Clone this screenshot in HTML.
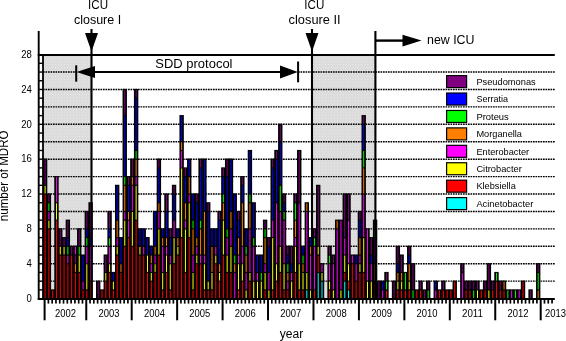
<!DOCTYPE html>
<html><head><meta charset="utf-8"><title>MDRO chart</title>
<style>html,body{margin:0;padding:0;background:#fff}body{width:566px;height:341px;overflow:hidden}</style></head>
<body>
<svg width="566" height="341" viewBox="0 0 566 341" style="display:block" font-family="Liberation Sans, Arial, Helvetica, sans-serif" fill="#000">
<defs><pattern id="gp" width="3" height="3" patternUnits="userSpaceOnUse"><rect width="3" height="3" fill="#dcdcdc"/><rect x="1" y="1" width="1" height="1" fill="#e6e6e6"/></pattern></defs>
<rect width="566" height="341" fill="#fff"/>
<rect x="43" y="55" width="48.400000000000006" height="244" fill="url(#gp)"/>
<rect x="312" y="55" width="63.39999999999998" height="244" fill="url(#gp)"/>
<line x1="43" x2="554.8" y1="281.17" y2="281.17" stroke="#000" stroke-width="1.4" stroke-dasharray="1.7 0.8"/>
<line x1="43" x2="554.8" y1="263.74" y2="263.74" stroke="#000" stroke-width="1.4" stroke-dasharray="1.7 0.8"/>
<line x1="43" x2="554.8" y1="246.32" y2="246.32" stroke="#000" stroke-width="1.4" stroke-dasharray="1.7 0.8"/>
<line x1="43" x2="554.8" y1="228.89" y2="228.89" stroke="#000" stroke-width="1.4" stroke-dasharray="1.7 0.8"/>
<line x1="43" x2="554.8" y1="211.46" y2="211.46" stroke="#000" stroke-width="1.4" stroke-dasharray="1.7 0.8"/>
<line x1="43" x2="554.8" y1="194.03" y2="194.03" stroke="#000" stroke-width="1.4" stroke-dasharray="1.7 0.8"/>
<line x1="43" x2="554.8" y1="176.60" y2="176.60" stroke="#000" stroke-width="1.4" stroke-dasharray="1.7 0.8"/>
<line x1="43" x2="554.8" y1="159.18" y2="159.18" stroke="#000" stroke-width="1.4" stroke-dasharray="1.7 0.8"/>
<line x1="43" x2="554.8" y1="141.75" y2="141.75" stroke="#000" stroke-width="1.4" stroke-dasharray="1.7 0.8"/>
<line x1="43" x2="554.8" y1="124.32" y2="124.32" stroke="#000" stroke-width="1.4" stroke-dasharray="1.7 0.8"/>
<line x1="43" x2="554.8" y1="106.89" y2="106.89" stroke="#000" stroke-width="1.4" stroke-dasharray="1.7 0.8"/>
<line x1="43" x2="554.8" y1="89.46" y2="89.46" stroke="#000" stroke-width="1.4" stroke-dasharray="1.7 0.8"/>
<line x1="43" x2="77" y1="72.04" y2="72.04" stroke="#000" stroke-width="1.4" stroke-dasharray="1.7 0.8"/>
<line x1="298" x2="554.8" y1="72.04" y2="72.04" stroke="#000" stroke-width="1.4" stroke-dasharray="1.7 0.8"/>
<rect x="42.90" y="158.63" width="4.393" height="139.97" fill="#000"/>
<rect x="44.60" y="194.58" width="0.993" height="103.47" fill="#ff0000"/>
<rect x="44.60" y="185.87" width="0.993" height="7.61" fill="#ffff00"/>
<rect x="44.60" y="159.73" width="0.993" height="25.04" fill="#800080"/>
<rect x="46.69" y="193.48" width="4.393" height="105.12" fill="#000"/>
<rect x="48.39" y="229.44" width="0.993" height="68.61" fill="#ff0000"/>
<rect x="48.39" y="220.72" width="0.993" height="7.61" fill="#ffff00"/>
<rect x="48.39" y="212.01" width="0.993" height="7.61" fill="#ff00ff"/>
<rect x="48.39" y="203.30" width="0.993" height="7.61" fill="#00ff00"/>
<rect x="48.39" y="194.58" width="0.993" height="7.61" fill="#800080"/>
<rect x="50.49" y="289.34" width="4.393" height="9.26" fill="#000"/>
<rect x="52.19" y="290.44" width="0.993" height="7.61" fill="#ff0000"/>
<rect x="54.28" y="176.05" width="4.393" height="122.55" fill="#000"/>
<rect x="55.98" y="220.72" width="0.993" height="77.33" fill="#ff0000"/>
<rect x="55.98" y="203.30" width="0.993" height="16.33" fill="#ffff00"/>
<rect x="55.98" y="177.15" width="0.993" height="25.04" fill="#ff00ff"/>
<rect x="58.07" y="228.34" width="4.393" height="70.26" fill="#000"/>
<rect x="59.77" y="255.58" width="0.993" height="42.47" fill="#ff0000"/>
<rect x="59.77" y="246.87" width="0.993" height="7.61" fill="#ffff00"/>
<rect x="59.77" y="229.44" width="0.993" height="16.33" fill="#800080"/>
<rect x="61.87" y="237.05" width="4.393" height="61.55" fill="#000"/>
<rect x="63.57" y="255.58" width="0.993" height="42.47" fill="#ff0000"/>
<rect x="63.57" y="246.87" width="0.993" height="7.61" fill="#ffff00"/>
<rect x="63.57" y="238.15" width="0.993" height="7.61" fill="#800080"/>
<rect x="65.66" y="219.62" width="4.393" height="78.98" fill="#000"/>
<rect x="67.36" y="264.29" width="0.993" height="33.76" fill="#ff0000"/>
<rect x="67.36" y="255.58" width="0.993" height="7.61" fill="#ff00ff"/>
<rect x="67.36" y="246.87" width="0.993" height="7.61" fill="#00ff00"/>
<rect x="67.36" y="238.15" width="0.993" height="7.61" fill="#0000ff"/>
<rect x="67.36" y="220.72" width="0.993" height="16.33" fill="#800080"/>
<rect x="69.45" y="245.77" width="4.393" height="52.83" fill="#000"/>
<rect x="71.15" y="255.58" width="0.993" height="42.47" fill="#ff0000"/>
<rect x="71.15" y="246.87" width="0.993" height="7.61" fill="#800080"/>
<rect x="73.24" y="245.77" width="4.393" height="52.83" fill="#000"/>
<rect x="74.94" y="273.01" width="0.993" height="25.04" fill="#ff0000"/>
<rect x="74.94" y="264.29" width="0.993" height="7.61" fill="#ff8000"/>
<rect x="74.94" y="255.58" width="0.993" height="7.61" fill="#800080"/>
<rect x="74.94" y="246.87" width="0.993" height="7.61" fill="#ff00ff"/>
<rect x="77.04" y="228.34" width="4.393" height="70.26" fill="#000"/>
<rect x="78.74" y="273.01" width="0.993" height="25.04" fill="#ff0000"/>
<rect x="78.74" y="255.58" width="0.993" height="16.33" fill="#ffff00"/>
<rect x="78.74" y="246.87" width="0.993" height="7.61" fill="#00ff00"/>
<rect x="78.74" y="229.44" width="0.993" height="16.33" fill="#800080"/>
<rect x="80.83" y="254.48" width="4.393" height="44.12" fill="#000"/>
<rect x="82.53" y="290.44" width="0.993" height="7.61" fill="#ff0000"/>
<rect x="82.53" y="281.72" width="0.993" height="7.61" fill="#ff00ff"/>
<rect x="82.53" y="255.58" width="0.993" height="25.04" fill="#0000ff"/>
<rect x="84.62" y="210.91" width="4.393" height="87.69" fill="#000"/>
<rect x="86.32" y="290.44" width="0.993" height="7.61" fill="#ff0000"/>
<rect x="86.32" y="264.29" width="0.993" height="25.04" fill="#ffff00"/>
<rect x="86.32" y="246.87" width="0.993" height="16.33" fill="#ff00ff"/>
<rect x="86.32" y="238.15" width="0.993" height="7.61" fill="#00ff00"/>
<rect x="86.32" y="229.44" width="0.993" height="7.61" fill="#0000ff"/>
<rect x="86.32" y="212.01" width="0.993" height="16.33" fill="#800080"/>
<rect x="88.42" y="202.20" width="4.393" height="96.40" fill="#000"/>
<rect x="90.12" y="281.72" width="0.993" height="16.33" fill="#ff0000"/>
<rect x="90.12" y="246.87" width="0.993" height="33.76" fill="#ff00ff"/>
<rect x="90.12" y="238.15" width="0.993" height="7.61" fill="#0000ff"/>
<rect x="90.12" y="203.30" width="0.993" height="33.76" fill="#800080"/>
<rect x="96.00" y="280.62" width="4.393" height="17.98" fill="#000"/>
<rect x="97.70" y="281.72" width="0.993" height="16.33" fill="#800080"/>
<rect x="99.80" y="289.34" width="4.393" height="9.26" fill="#000"/>
<rect x="101.50" y="290.44" width="0.993" height="7.61" fill="#ff0000"/>
<rect x="103.59" y="254.48" width="4.393" height="44.12" fill="#000"/>
<rect x="105.29" y="281.72" width="0.993" height="16.33" fill="#ff0000"/>
<rect x="105.29" y="273.01" width="0.993" height="7.61" fill="#ffff00"/>
<rect x="105.29" y="255.58" width="0.993" height="16.33" fill="#800080"/>
<rect x="107.38" y="210.91" width="4.393" height="87.69" fill="#000"/>
<rect x="109.08" y="273.01" width="0.993" height="25.04" fill="#ff0000"/>
<rect x="109.08" y="264.29" width="0.993" height="7.61" fill="#ffff00"/>
<rect x="109.08" y="246.87" width="0.993" height="16.33" fill="#ff00ff"/>
<rect x="109.08" y="238.15" width="0.993" height="7.61" fill="#00ff00"/>
<rect x="109.08" y="229.44" width="0.993" height="7.61" fill="#0000ff"/>
<rect x="109.08" y="212.01" width="0.993" height="16.33" fill="#800080"/>
<rect x="111.17" y="271.91" width="4.393" height="26.69" fill="#000"/>
<rect x="112.87" y="290.44" width="0.993" height="7.61" fill="#ff0000"/>
<rect x="112.87" y="281.72" width="0.993" height="7.61" fill="#ffff00"/>
<rect x="112.87" y="273.01" width="0.993" height="7.61" fill="#0000ff"/>
<rect x="114.97" y="184.77" width="4.393" height="113.83" fill="#000"/>
<rect x="116.67" y="255.58" width="0.993" height="42.47" fill="#ff0000"/>
<rect x="116.67" y="246.87" width="0.993" height="7.61" fill="#ffff00"/>
<rect x="116.67" y="238.15" width="0.993" height="7.61" fill="#ff00ff"/>
<rect x="116.67" y="220.72" width="0.993" height="16.33" fill="#ff8000"/>
<rect x="116.67" y="185.87" width="0.993" height="33.76" fill="#0000ff"/>
<rect x="118.76" y="237.05" width="4.393" height="61.55" fill="#000"/>
<rect x="120.46" y="273.01" width="0.993" height="25.04" fill="#ff0000"/>
<rect x="120.46" y="264.29" width="0.993" height="7.61" fill="#ff8000"/>
<rect x="120.46" y="238.15" width="0.993" height="25.04" fill="#0000ff"/>
<rect x="122.55" y="88.91" width="4.393" height="209.69" fill="#000"/>
<rect x="124.25" y="246.87" width="0.993" height="51.18" fill="#ff0000"/>
<rect x="124.25" y="220.72" width="0.993" height="25.04" fill="#ffff00"/>
<rect x="124.25" y="212.01" width="0.993" height="7.61" fill="#ff00ff"/>
<rect x="124.25" y="185.87" width="0.993" height="25.04" fill="#ff8000"/>
<rect x="124.25" y="177.15" width="0.993" height="7.61" fill="#00ff00"/>
<rect x="124.25" y="116.16" width="0.993" height="59.90" fill="#0000ff"/>
<rect x="124.25" y="90.01" width="0.993" height="25.04" fill="#800080"/>
<rect x="126.35" y="176.05" width="4.393" height="122.55" fill="#000"/>
<rect x="128.05" y="238.15" width="0.993" height="59.90" fill="#ff0000"/>
<rect x="128.05" y="220.72" width="0.993" height="16.33" fill="#ff00ff"/>
<rect x="128.05" y="212.01" width="0.993" height="7.61" fill="#ff8000"/>
<rect x="128.05" y="185.87" width="0.993" height="25.04" fill="#0000ff"/>
<rect x="128.05" y="177.15" width="0.993" height="7.61" fill="#800080"/>
<rect x="130.14" y="158.63" width="4.393" height="139.97" fill="#000"/>
<rect x="131.84" y="246.87" width="0.993" height="51.18" fill="#ff0000"/>
<rect x="131.84" y="212.01" width="0.993" height="33.76" fill="#ffff00"/>
<rect x="131.84" y="185.87" width="0.993" height="25.04" fill="#ff00ff"/>
<rect x="131.84" y="177.15" width="0.993" height="7.61" fill="#ff8000"/>
<rect x="131.84" y="159.73" width="0.993" height="16.33" fill="#800080"/>
<rect x="133.93" y="88.91" width="4.393" height="209.69" fill="#000"/>
<rect x="135.63" y="220.72" width="0.993" height="77.33" fill="#ff0000"/>
<rect x="135.63" y="185.87" width="0.993" height="33.76" fill="#ffff00"/>
<rect x="135.63" y="177.15" width="0.993" height="7.61" fill="#ff00ff"/>
<rect x="135.63" y="159.73" width="0.993" height="16.33" fill="#ff8000"/>
<rect x="135.63" y="151.01" width="0.993" height="7.61" fill="#00ff00"/>
<rect x="135.63" y="98.73" width="0.993" height="51.18" fill="#0000ff"/>
<rect x="135.63" y="90.01" width="0.993" height="7.61" fill="#800080"/>
<rect x="137.72" y="228.34" width="4.393" height="70.26" fill="#000"/>
<rect x="139.43" y="255.58" width="0.993" height="42.47" fill="#ff0000"/>
<rect x="139.43" y="246.87" width="0.993" height="7.61" fill="#ffff00"/>
<rect x="139.43" y="229.44" width="0.993" height="16.33" fill="#0000ff"/>
<rect x="141.52" y="228.34" width="4.393" height="70.26" fill="#000"/>
<rect x="143.22" y="255.58" width="0.993" height="42.47" fill="#ff0000"/>
<rect x="143.22" y="246.87" width="0.993" height="7.61" fill="#ff00ff"/>
<rect x="143.22" y="229.44" width="0.993" height="16.33" fill="#0000ff"/>
<rect x="145.31" y="237.05" width="4.393" height="61.55" fill="#000"/>
<rect x="147.01" y="273.01" width="0.993" height="25.04" fill="#ff0000"/>
<rect x="147.01" y="255.58" width="0.993" height="16.33" fill="#ffff00"/>
<rect x="147.01" y="238.15" width="0.993" height="16.33" fill="#0000ff"/>
<rect x="149.10" y="245.77" width="4.393" height="52.83" fill="#000"/>
<rect x="150.80" y="281.72" width="0.993" height="16.33" fill="#ff0000"/>
<rect x="150.80" y="273.01" width="0.993" height="7.61" fill="#ffff00"/>
<rect x="150.80" y="264.29" width="0.993" height="7.61" fill="#ff00ff"/>
<rect x="150.80" y="255.58" width="0.993" height="7.61" fill="#ff8000"/>
<rect x="150.80" y="246.87" width="0.993" height="7.61" fill="#0000ff"/>
<rect x="152.90" y="210.91" width="4.393" height="87.69" fill="#000"/>
<rect x="154.60" y="273.01" width="0.993" height="25.04" fill="#ff0000"/>
<rect x="154.60" y="264.29" width="0.993" height="7.61" fill="#ffff00"/>
<rect x="154.60" y="255.58" width="0.993" height="7.61" fill="#ff00ff"/>
<rect x="154.60" y="246.87" width="0.993" height="7.61" fill="#ff8000"/>
<rect x="154.60" y="212.01" width="0.993" height="33.76" fill="#0000ff"/>
<rect x="156.69" y="158.63" width="4.393" height="139.97" fill="#000"/>
<rect x="158.39" y="255.58" width="0.993" height="42.47" fill="#ff0000"/>
<rect x="158.39" y="229.44" width="0.993" height="25.04" fill="#ffff00"/>
<rect x="158.39" y="212.01" width="0.993" height="16.33" fill="#ff00ff"/>
<rect x="158.39" y="203.30" width="0.993" height="7.61" fill="#ff8000"/>
<rect x="158.39" y="168.44" width="0.993" height="33.76" fill="#0000ff"/>
<rect x="158.39" y="159.73" width="0.993" height="7.61" fill="#800080"/>
<rect x="160.48" y="228.34" width="4.393" height="70.26" fill="#000"/>
<rect x="162.18" y="290.44" width="0.993" height="7.61" fill="#ff0000"/>
<rect x="162.18" y="273.01" width="0.993" height="16.33" fill="#ffff00"/>
<rect x="162.18" y="246.87" width="0.993" height="25.04" fill="#ff00ff"/>
<rect x="162.18" y="238.15" width="0.993" height="7.61" fill="#ff8000"/>
<rect x="162.18" y="229.44" width="0.993" height="7.61" fill="#0000ff"/>
<rect x="164.28" y="193.48" width="4.393" height="105.12" fill="#000"/>
<rect x="165.98" y="273.01" width="0.993" height="25.04" fill="#ff0000"/>
<rect x="165.98" y="255.58" width="0.993" height="16.33" fill="#ffff00"/>
<rect x="165.98" y="246.87" width="0.993" height="7.61" fill="#ff00ff"/>
<rect x="165.98" y="238.15" width="0.993" height="7.61" fill="#ff8000"/>
<rect x="165.98" y="212.01" width="0.993" height="25.04" fill="#0000ff"/>
<rect x="165.98" y="194.58" width="0.993" height="16.33" fill="#800080"/>
<rect x="168.07" y="228.34" width="4.393" height="70.26" fill="#000"/>
<rect x="169.77" y="290.44" width="0.993" height="7.61" fill="#ff0000"/>
<rect x="169.77" y="264.29" width="0.993" height="25.04" fill="#ffff00"/>
<rect x="169.77" y="255.58" width="0.993" height="7.61" fill="#ff00ff"/>
<rect x="169.77" y="238.15" width="0.993" height="16.33" fill="#0000ff"/>
<rect x="169.77" y="229.44" width="0.993" height="7.61" fill="#800080"/>
<rect x="171.86" y="184.77" width="4.393" height="113.83" fill="#000"/>
<rect x="173.56" y="264.29" width="0.993" height="33.76" fill="#ff0000"/>
<rect x="173.56" y="238.15" width="0.993" height="25.04" fill="#ffff00"/>
<rect x="173.56" y="220.72" width="0.993" height="16.33" fill="#ff00ff"/>
<rect x="173.56" y="194.58" width="0.993" height="25.04" fill="#0000ff"/>
<rect x="173.56" y="185.87" width="0.993" height="7.61" fill="#800080"/>
<rect x="175.65" y="228.34" width="4.393" height="70.26" fill="#000"/>
<rect x="177.35" y="255.58" width="0.993" height="42.47" fill="#ff0000"/>
<rect x="177.35" y="246.87" width="0.993" height="7.61" fill="#ffff00"/>
<rect x="177.35" y="238.15" width="0.993" height="7.61" fill="#ff8000"/>
<rect x="177.35" y="229.44" width="0.993" height="7.61" fill="#0000ff"/>
<rect x="179.45" y="115.06" width="4.393" height="183.54" fill="#000"/>
<rect x="181.15" y="238.15" width="0.993" height="59.90" fill="#ff0000"/>
<rect x="181.15" y="168.44" width="0.993" height="68.61" fill="#ffff00"/>
<rect x="181.15" y="151.01" width="0.993" height="16.33" fill="#ff00ff"/>
<rect x="181.15" y="142.30" width="0.993" height="7.61" fill="#ff8000"/>
<rect x="181.15" y="116.16" width="0.993" height="25.04" fill="#0000ff"/>
<rect x="183.24" y="167.34" width="4.393" height="131.26" fill="#000"/>
<rect x="184.94" y="273.01" width="0.993" height="25.04" fill="#ff0000"/>
<rect x="184.94" y="229.44" width="0.993" height="42.47" fill="#ffff00"/>
<rect x="184.94" y="220.72" width="0.993" height="7.61" fill="#ff00ff"/>
<rect x="184.94" y="203.30" width="0.993" height="16.33" fill="#ff8000"/>
<rect x="184.94" y="177.15" width="0.993" height="25.04" fill="#0000ff"/>
<rect x="184.94" y="168.44" width="0.993" height="7.61" fill="#800080"/>
<rect x="187.03" y="158.63" width="4.393" height="139.97" fill="#000"/>
<rect x="188.73" y="238.15" width="0.993" height="59.90" fill="#ff0000"/>
<rect x="188.73" y="203.30" width="0.993" height="33.76" fill="#ffff00"/>
<rect x="188.73" y="194.58" width="0.993" height="7.61" fill="#ff00ff"/>
<rect x="188.73" y="177.15" width="0.993" height="16.33" fill="#ff8000"/>
<rect x="188.73" y="159.73" width="0.993" height="16.33" fill="#0000ff"/>
<rect x="190.83" y="193.48" width="4.393" height="105.12" fill="#000"/>
<rect x="192.53" y="290.44" width="0.993" height="7.61" fill="#ff0000"/>
<rect x="192.53" y="273.01" width="0.993" height="16.33" fill="#ffff00"/>
<rect x="192.53" y="255.58" width="0.993" height="16.33" fill="#ff00ff"/>
<rect x="192.53" y="229.44" width="0.993" height="25.04" fill="#ff8000"/>
<rect x="192.53" y="220.72" width="0.993" height="7.61" fill="#00ff00"/>
<rect x="192.53" y="194.58" width="0.993" height="25.04" fill="#0000ff"/>
<rect x="194.62" y="193.48" width="4.393" height="105.12" fill="#000"/>
<rect x="196.32" y="264.29" width="0.993" height="33.76" fill="#ff0000"/>
<rect x="196.32" y="255.58" width="0.993" height="7.61" fill="#ffff00"/>
<rect x="196.32" y="246.87" width="0.993" height="7.61" fill="#ff00ff"/>
<rect x="196.32" y="238.15" width="0.993" height="7.61" fill="#ff8000"/>
<rect x="196.32" y="203.30" width="0.993" height="33.76" fill="#0000ff"/>
<rect x="196.32" y="194.58" width="0.993" height="7.61" fill="#800080"/>
<rect x="198.41" y="158.63" width="4.393" height="139.97" fill="#000"/>
<rect x="200.11" y="264.29" width="0.993" height="33.76" fill="#ff0000"/>
<rect x="200.11" y="255.58" width="0.993" height="7.61" fill="#ff00ff"/>
<rect x="200.11" y="229.44" width="0.993" height="25.04" fill="#ff8000"/>
<rect x="200.11" y="220.72" width="0.993" height="7.61" fill="#00ff00"/>
<rect x="200.11" y="168.44" width="0.993" height="51.18" fill="#0000ff"/>
<rect x="200.11" y="159.73" width="0.993" height="7.61" fill="#800080"/>
<rect x="202.21" y="158.63" width="4.393" height="139.97" fill="#000"/>
<rect x="203.91" y="290.44" width="0.993" height="7.61" fill="#ff0000"/>
<rect x="203.91" y="264.29" width="0.993" height="25.04" fill="#ffff00"/>
<rect x="203.91" y="255.58" width="0.993" height="7.61" fill="#ff00ff"/>
<rect x="203.91" y="212.01" width="0.993" height="42.47" fill="#ff8000"/>
<rect x="203.91" y="159.73" width="0.993" height="51.18" fill="#0000ff"/>
<rect x="206.00" y="202.20" width="4.393" height="96.40" fill="#000"/>
<rect x="207.70" y="290.44" width="0.993" height="7.61" fill="#ff0000"/>
<rect x="207.70" y="281.72" width="0.993" height="7.61" fill="#ffff00"/>
<rect x="207.70" y="212.01" width="0.993" height="68.61" fill="#0000ff"/>
<rect x="207.70" y="203.30" width="0.993" height="7.61" fill="#800080"/>
<rect x="209.79" y="228.34" width="4.393" height="70.26" fill="#000"/>
<rect x="211.49" y="290.44" width="0.993" height="7.61" fill="#ff0000"/>
<rect x="211.49" y="273.01" width="0.993" height="16.33" fill="#ffff00"/>
<rect x="211.49" y="246.87" width="0.993" height="25.04" fill="#ff8000"/>
<rect x="211.49" y="229.44" width="0.993" height="16.33" fill="#0000ff"/>
<rect x="213.58" y="228.34" width="4.393" height="70.26" fill="#000"/>
<rect x="215.28" y="264.29" width="0.993" height="33.76" fill="#ff0000"/>
<rect x="215.28" y="255.58" width="0.993" height="7.61" fill="#ffff00"/>
<rect x="215.28" y="246.87" width="0.993" height="7.61" fill="#ff00ff"/>
<rect x="215.28" y="229.44" width="0.993" height="16.33" fill="#0000ff"/>
<rect x="217.38" y="210.91" width="4.393" height="87.69" fill="#000"/>
<rect x="219.08" y="281.72" width="0.993" height="16.33" fill="#ff0000"/>
<rect x="219.08" y="273.01" width="0.993" height="7.61" fill="#ffff00"/>
<rect x="219.08" y="264.29" width="0.993" height="7.61" fill="#ff8000"/>
<rect x="219.08" y="220.72" width="0.993" height="42.47" fill="#0000ff"/>
<rect x="219.08" y="212.01" width="0.993" height="7.61" fill="#800080"/>
<rect x="221.17" y="167.34" width="4.393" height="131.26" fill="#000"/>
<rect x="222.87" y="255.58" width="0.993" height="42.47" fill="#ff0000"/>
<rect x="222.87" y="220.72" width="0.993" height="33.76" fill="#ffff00"/>
<rect x="222.87" y="203.30" width="0.993" height="16.33" fill="#ff8000"/>
<rect x="222.87" y="194.58" width="0.993" height="7.61" fill="#00ff00"/>
<rect x="222.87" y="177.15" width="0.993" height="16.33" fill="#0000ff"/>
<rect x="222.87" y="168.44" width="0.993" height="7.61" fill="#800080"/>
<rect x="224.96" y="158.63" width="4.393" height="139.97" fill="#000"/>
<rect x="226.66" y="273.01" width="0.993" height="25.04" fill="#ff0000"/>
<rect x="226.66" y="255.58" width="0.993" height="16.33" fill="#ffff00"/>
<rect x="226.66" y="238.15" width="0.993" height="16.33" fill="#ff00ff"/>
<rect x="226.66" y="229.44" width="0.993" height="7.61" fill="#00ff00"/>
<rect x="226.66" y="177.15" width="0.993" height="51.18" fill="#0000ff"/>
<rect x="226.66" y="159.73" width="0.993" height="16.33" fill="#800080"/>
<rect x="228.76" y="158.63" width="4.393" height="139.97" fill="#000"/>
<rect x="230.46" y="273.01" width="0.993" height="25.04" fill="#ff0000"/>
<rect x="230.46" y="246.87" width="0.993" height="25.04" fill="#ffff00"/>
<rect x="230.46" y="229.44" width="0.993" height="16.33" fill="#ff00ff"/>
<rect x="230.46" y="212.01" width="0.993" height="16.33" fill="#ff8000"/>
<rect x="230.46" y="159.73" width="0.993" height="51.18" fill="#0000ff"/>
<rect x="232.55" y="193.48" width="4.393" height="105.12" fill="#000"/>
<rect x="234.25" y="273.01" width="0.993" height="25.04" fill="#ff00ff"/>
<rect x="234.25" y="264.29" width="0.993" height="7.61" fill="#ff8000"/>
<rect x="234.25" y="255.58" width="0.993" height="7.61" fill="#00ff00"/>
<rect x="234.25" y="194.58" width="0.993" height="59.90" fill="#0000ff"/>
<rect x="236.34" y="210.91" width="4.393" height="87.69" fill="#000"/>
<rect x="238.04" y="290.44" width="0.993" height="7.61" fill="#ff0000"/>
<rect x="238.04" y="264.29" width="0.993" height="25.04" fill="#ffff00"/>
<rect x="238.04" y="255.58" width="0.993" height="7.61" fill="#ff00ff"/>
<rect x="238.04" y="238.15" width="0.993" height="16.33" fill="#ff8000"/>
<rect x="238.04" y="220.72" width="0.993" height="16.33" fill="#0000ff"/>
<rect x="238.04" y="212.01" width="0.993" height="7.61" fill="#800080"/>
<rect x="240.14" y="176.05" width="4.393" height="122.55" fill="#000"/>
<rect x="241.84" y="281.72" width="0.993" height="16.33" fill="#ff0000"/>
<rect x="241.84" y="264.29" width="0.993" height="16.33" fill="#ffff00"/>
<rect x="241.84" y="246.87" width="0.993" height="16.33" fill="#ff00ff"/>
<rect x="241.84" y="203.30" width="0.993" height="42.47" fill="#ff8000"/>
<rect x="241.84" y="185.87" width="0.993" height="16.33" fill="#0000ff"/>
<rect x="241.84" y="177.15" width="0.993" height="7.61" fill="#800080"/>
<rect x="243.93" y="228.34" width="4.393" height="70.26" fill="#000"/>
<rect x="245.63" y="290.44" width="0.993" height="7.61" fill="#ffff00"/>
<rect x="245.63" y="273.01" width="0.993" height="16.33" fill="#ff00ff"/>
<rect x="245.63" y="255.58" width="0.993" height="16.33" fill="#ff8000"/>
<rect x="245.63" y="246.87" width="0.993" height="7.61" fill="#00ff00"/>
<rect x="245.63" y="229.44" width="0.993" height="16.33" fill="#0000ff"/>
<rect x="247.72" y="149.91" width="4.393" height="148.69" fill="#000"/>
<rect x="249.42" y="281.72" width="0.993" height="16.33" fill="#ff0000"/>
<rect x="249.42" y="273.01" width="0.993" height="7.61" fill="#ffff00"/>
<rect x="249.42" y="229.44" width="0.993" height="42.47" fill="#ff00ff"/>
<rect x="249.42" y="203.30" width="0.993" height="25.04" fill="#ff8000"/>
<rect x="249.42" y="194.58" width="0.993" height="7.61" fill="#00ff00"/>
<rect x="249.42" y="151.01" width="0.993" height="42.47" fill="#0000ff"/>
<rect x="251.51" y="202.20" width="4.393" height="96.40" fill="#000"/>
<rect x="253.22" y="281.72" width="0.993" height="16.33" fill="#ffff00"/>
<rect x="253.22" y="246.87" width="0.993" height="33.76" fill="#ff00ff"/>
<rect x="253.22" y="238.15" width="0.993" height="7.61" fill="#00ff00"/>
<rect x="253.22" y="203.30" width="0.993" height="33.76" fill="#0000ff"/>
<rect x="255.31" y="254.48" width="4.393" height="44.12" fill="#000"/>
<rect x="257.01" y="281.72" width="0.993" height="16.33" fill="#ffff00"/>
<rect x="257.01" y="273.01" width="0.993" height="7.61" fill="#ff00ff"/>
<rect x="257.01" y="255.58" width="0.993" height="16.33" fill="#0000ff"/>
<rect x="259.10" y="254.48" width="4.393" height="44.12" fill="#000"/>
<rect x="260.80" y="281.72" width="0.993" height="16.33" fill="#ffff00"/>
<rect x="260.80" y="273.01" width="0.993" height="7.61" fill="#00ff00"/>
<rect x="260.80" y="255.58" width="0.993" height="16.33" fill="#0000ff"/>
<rect x="262.89" y="219.62" width="4.393" height="78.98" fill="#000"/>
<rect x="264.59" y="290.44" width="0.993" height="7.61" fill="#ff0000"/>
<rect x="264.59" y="273.01" width="0.993" height="16.33" fill="#ffff00"/>
<rect x="264.59" y="264.29" width="0.993" height="7.61" fill="#ff00ff"/>
<rect x="264.59" y="238.15" width="0.993" height="25.04" fill="#ff8000"/>
<rect x="264.59" y="229.44" width="0.993" height="7.61" fill="#00ff00"/>
<rect x="264.59" y="220.72" width="0.993" height="7.61" fill="#800080"/>
<rect x="266.69" y="237.05" width="4.393" height="61.55" fill="#000"/>
<rect x="268.39" y="290.44" width="0.993" height="7.61" fill="#ffff00"/>
<rect x="268.39" y="273.01" width="0.993" height="16.33" fill="#ff00ff"/>
<rect x="268.39" y="246.87" width="0.993" height="25.04" fill="#0000ff"/>
<rect x="268.39" y="238.15" width="0.993" height="7.61" fill="#800080"/>
<rect x="270.48" y="158.63" width="4.393" height="139.97" fill="#000"/>
<rect x="272.18" y="290.44" width="0.993" height="7.61" fill="#ff0000"/>
<rect x="272.18" y="238.15" width="0.993" height="51.18" fill="#ffff00"/>
<rect x="272.18" y="220.72" width="0.993" height="16.33" fill="#ff00ff"/>
<rect x="272.18" y="168.44" width="0.993" height="51.18" fill="#0000ff"/>
<rect x="272.18" y="159.73" width="0.993" height="7.61" fill="#800080"/>
<rect x="274.27" y="149.91" width="4.393" height="148.69" fill="#000"/>
<rect x="275.97" y="281.72" width="0.993" height="16.33" fill="#ff0000"/>
<rect x="275.97" y="264.29" width="0.993" height="16.33" fill="#ffff00"/>
<rect x="275.97" y="203.30" width="0.993" height="59.90" fill="#ff00ff"/>
<rect x="275.97" y="159.73" width="0.993" height="42.47" fill="#0000ff"/>
<rect x="275.97" y="151.01" width="0.993" height="7.61" fill="#800080"/>
<rect x="278.07" y="123.77" width="4.393" height="174.83" fill="#000"/>
<rect x="279.77" y="273.01" width="0.993" height="25.04" fill="#ff0000"/>
<rect x="279.77" y="246.87" width="0.993" height="25.04" fill="#ffff00"/>
<rect x="279.77" y="212.01" width="0.993" height="33.76" fill="#ff00ff"/>
<rect x="279.77" y="185.87" width="0.993" height="25.04" fill="#00ff00"/>
<rect x="279.77" y="142.30" width="0.993" height="42.47" fill="#0000ff"/>
<rect x="279.77" y="124.87" width="0.993" height="16.33" fill="#800080"/>
<rect x="281.86" y="193.48" width="4.393" height="105.12" fill="#000"/>
<rect x="283.56" y="290.44" width="0.993" height="7.61" fill="#ff0000"/>
<rect x="283.56" y="264.29" width="0.993" height="25.04" fill="#ffff00"/>
<rect x="283.56" y="220.72" width="0.993" height="42.47" fill="#ff00ff"/>
<rect x="283.56" y="212.01" width="0.993" height="7.61" fill="#00ff00"/>
<rect x="283.56" y="203.30" width="0.993" height="7.61" fill="#0000ff"/>
<rect x="283.56" y="194.58" width="0.993" height="7.61" fill="#800080"/>
<rect x="285.65" y="245.77" width="4.393" height="52.83" fill="#000"/>
<rect x="287.35" y="290.44" width="0.993" height="7.61" fill="#ff0000"/>
<rect x="287.35" y="281.72" width="0.993" height="7.61" fill="#ff00ff"/>
<rect x="287.35" y="273.01" width="0.993" height="7.61" fill="#ff8000"/>
<rect x="287.35" y="264.29" width="0.993" height="7.61" fill="#00ff00"/>
<rect x="287.35" y="255.58" width="0.993" height="7.61" fill="#0000ff"/>
<rect x="287.35" y="246.87" width="0.993" height="7.61" fill="#800080"/>
<rect x="289.44" y="245.77" width="4.393" height="52.83" fill="#000"/>
<rect x="291.14" y="281.72" width="0.993" height="16.33" fill="#ffff00"/>
<rect x="291.14" y="273.01" width="0.993" height="7.61" fill="#ff00ff"/>
<rect x="291.14" y="264.29" width="0.993" height="7.61" fill="#0000ff"/>
<rect x="291.14" y="246.87" width="0.993" height="16.33" fill="#800080"/>
<rect x="293.24" y="193.48" width="4.393" height="105.12" fill="#000"/>
<rect x="294.94" y="273.01" width="0.993" height="25.04" fill="#ff0000"/>
<rect x="294.94" y="246.87" width="0.993" height="25.04" fill="#ffff00"/>
<rect x="294.94" y="238.15" width="0.993" height="7.61" fill="#ff00ff"/>
<rect x="294.94" y="220.72" width="0.993" height="16.33" fill="#ff8000"/>
<rect x="294.94" y="203.30" width="0.993" height="16.33" fill="#00ff00"/>
<rect x="294.94" y="194.58" width="0.993" height="7.61" fill="#800080"/>
<rect x="297.03" y="149.91" width="4.393" height="148.69" fill="#000"/>
<rect x="298.73" y="290.44" width="0.993" height="7.61" fill="#ff0000"/>
<rect x="298.73" y="264.29" width="0.993" height="25.04" fill="#ffff00"/>
<rect x="298.73" y="203.30" width="0.993" height="59.90" fill="#ff00ff"/>
<rect x="298.73" y="151.01" width="0.993" height="51.18" fill="#800080"/>
<rect x="300.82" y="245.77" width="4.393" height="52.83" fill="#000"/>
<rect x="302.52" y="290.44" width="0.993" height="7.61" fill="#ff0000"/>
<rect x="302.52" y="273.01" width="0.993" height="16.33" fill="#ffff00"/>
<rect x="302.52" y="264.29" width="0.993" height="7.61" fill="#ff8000"/>
<rect x="302.52" y="255.58" width="0.993" height="7.61" fill="#00ff00"/>
<rect x="302.52" y="246.87" width="0.993" height="7.61" fill="#0000ff"/>
<rect x="304.62" y="202.20" width="4.393" height="96.40" fill="#000"/>
<rect x="306.32" y="290.44" width="0.993" height="7.61" fill="#00ffff"/>
<rect x="306.32" y="273.01" width="0.993" height="16.33" fill="#ffff00"/>
<rect x="306.32" y="212.01" width="0.993" height="59.90" fill="#ff00ff"/>
<rect x="306.32" y="203.30" width="0.993" height="7.61" fill="#ff8000"/>
<rect x="308.41" y="237.05" width="4.393" height="61.55" fill="#000"/>
<rect x="310.11" y="290.44" width="0.993" height="7.61" fill="#ffff00"/>
<rect x="310.11" y="255.58" width="0.993" height="33.76" fill="#ff00ff"/>
<rect x="310.11" y="246.87" width="0.993" height="7.61" fill="#ff8000"/>
<rect x="310.11" y="238.15" width="0.993" height="7.61" fill="#0000ff"/>
<rect x="312.20" y="228.34" width="4.393" height="70.26" fill="#000"/>
<rect x="313.90" y="290.44" width="0.993" height="7.61" fill="#ff0000"/>
<rect x="313.90" y="246.87" width="0.993" height="42.47" fill="#ff00ff"/>
<rect x="313.90" y="238.15" width="0.993" height="7.61" fill="#00ff00"/>
<rect x="313.90" y="229.44" width="0.993" height="7.61" fill="#800080"/>
<rect x="316.00" y="184.77" width="4.393" height="113.83" fill="#000"/>
<rect x="317.70" y="273.01" width="0.993" height="25.04" fill="#00ffff"/>
<rect x="317.70" y="255.58" width="0.993" height="16.33" fill="#ff0000"/>
<rect x="317.70" y="246.87" width="0.993" height="7.61" fill="#ffff00"/>
<rect x="317.70" y="185.87" width="0.993" height="59.90" fill="#800080"/>
<rect x="319.79" y="263.19" width="4.393" height="35.41" fill="#000"/>
<rect x="321.49" y="281.72" width="0.993" height="16.33" fill="#00ffff"/>
<rect x="321.49" y="273.01" width="0.993" height="7.61" fill="#ffff00"/>
<rect x="321.49" y="264.29" width="0.993" height="7.61" fill="#ff00ff"/>
<rect x="327.38" y="245.77" width="4.393" height="52.83" fill="#000"/>
<rect x="329.07" y="290.44" width="0.993" height="7.61" fill="#ff0000"/>
<rect x="329.07" y="281.72" width="0.993" height="7.61" fill="#ffff00"/>
<rect x="329.07" y="264.29" width="0.993" height="16.33" fill="#ff00ff"/>
<rect x="329.07" y="255.58" width="0.993" height="7.61" fill="#00ff00"/>
<rect x="329.07" y="246.87" width="0.993" height="7.61" fill="#800080"/>
<rect x="331.17" y="254.48" width="4.393" height="44.12" fill="#000"/>
<rect x="332.87" y="290.44" width="0.993" height="7.61" fill="#ffff00"/>
<rect x="332.87" y="264.29" width="0.993" height="25.04" fill="#ff00ff"/>
<rect x="332.87" y="255.58" width="0.993" height="7.61" fill="#800080"/>
<rect x="334.96" y="219.62" width="4.393" height="78.98" fill="#000"/>
<rect x="336.66" y="229.44" width="0.993" height="68.61" fill="#ff00ff"/>
<rect x="336.66" y="220.72" width="0.993" height="7.61" fill="#ff8000"/>
<rect x="338.75" y="219.62" width="4.393" height="78.98" fill="#000"/>
<rect x="340.45" y="290.44" width="0.993" height="7.61" fill="#ffff00"/>
<rect x="340.45" y="220.72" width="0.993" height="68.61" fill="#ff00ff"/>
<rect x="342.55" y="193.48" width="4.393" height="105.12" fill="#000"/>
<rect x="344.25" y="281.72" width="0.993" height="16.33" fill="#00ffff"/>
<rect x="344.25" y="273.01" width="0.993" height="7.61" fill="#ff0000"/>
<rect x="344.25" y="255.58" width="0.993" height="16.33" fill="#ffff00"/>
<rect x="344.25" y="238.15" width="0.993" height="16.33" fill="#ff00ff"/>
<rect x="344.25" y="194.58" width="0.993" height="42.47" fill="#800080"/>
<rect x="346.34" y="193.48" width="4.393" height="105.12" fill="#000"/>
<rect x="348.04" y="290.44" width="0.993" height="7.61" fill="#00ffff"/>
<rect x="348.04" y="281.72" width="0.993" height="7.61" fill="#ff0000"/>
<rect x="348.04" y="264.29" width="0.993" height="16.33" fill="#ffff00"/>
<rect x="348.04" y="220.72" width="0.993" height="42.47" fill="#ff00ff"/>
<rect x="348.04" y="194.58" width="0.993" height="25.04" fill="#800080"/>
<rect x="350.13" y="254.48" width="4.393" height="44.12" fill="#000"/>
<rect x="351.83" y="264.29" width="0.993" height="33.76" fill="#ff0000"/>
<rect x="351.83" y="255.58" width="0.993" height="7.61" fill="#ff00ff"/>
<rect x="353.93" y="254.48" width="4.393" height="44.12" fill="#000"/>
<rect x="355.63" y="281.72" width="0.993" height="16.33" fill="#ff0000"/>
<rect x="355.63" y="264.29" width="0.993" height="16.33" fill="#ff00ff"/>
<rect x="355.63" y="255.58" width="0.993" height="7.61" fill="#0000ff"/>
<rect x="357.72" y="210.91" width="4.393" height="87.69" fill="#000"/>
<rect x="359.42" y="273.01" width="0.993" height="25.04" fill="#ff0000"/>
<rect x="359.42" y="264.29" width="0.993" height="7.61" fill="#ffff00"/>
<rect x="359.42" y="255.58" width="0.993" height="7.61" fill="#ff00ff"/>
<rect x="359.42" y="238.15" width="0.993" height="16.33" fill="#ff8000"/>
<rect x="359.42" y="220.72" width="0.993" height="16.33" fill="#0000ff"/>
<rect x="359.42" y="212.01" width="0.993" height="7.61" fill="#800080"/>
<rect x="361.51" y="115.06" width="4.393" height="183.54" fill="#000"/>
<rect x="363.21" y="273.01" width="0.993" height="25.04" fill="#ff0000"/>
<rect x="363.21" y="238.15" width="0.993" height="33.76" fill="#ffff00"/>
<rect x="363.21" y="194.58" width="0.993" height="42.47" fill="#ff00ff"/>
<rect x="363.21" y="168.44" width="0.993" height="25.04" fill="#ff8000"/>
<rect x="363.21" y="151.01" width="0.993" height="16.33" fill="#00ff00"/>
<rect x="363.21" y="124.87" width="0.993" height="25.04" fill="#0000ff"/>
<rect x="363.21" y="116.16" width="0.993" height="7.61" fill="#800080"/>
<rect x="365.31" y="228.34" width="4.393" height="70.26" fill="#000"/>
<rect x="367.00" y="281.72" width="0.993" height="16.33" fill="#ffff00"/>
<rect x="367.00" y="229.44" width="0.993" height="51.18" fill="#ff00ff"/>
<rect x="369.10" y="237.05" width="4.393" height="61.55" fill="#000"/>
<rect x="370.80" y="281.72" width="0.993" height="16.33" fill="#ffff00"/>
<rect x="370.80" y="264.29" width="0.993" height="16.33" fill="#ff00ff"/>
<rect x="370.80" y="255.58" width="0.993" height="7.61" fill="#0000ff"/>
<rect x="370.80" y="238.15" width="0.993" height="16.33" fill="#800080"/>
<rect x="372.89" y="219.62" width="4.393" height="78.98" fill="#000"/>
<rect x="374.59" y="281.72" width="0.993" height="16.33" fill="#ff0000"/>
<rect x="374.59" y="264.29" width="0.993" height="16.33" fill="#ffff00"/>
<rect x="374.59" y="238.15" width="0.993" height="25.04" fill="#ff00ff"/>
<rect x="374.59" y="229.44" width="0.993" height="7.61" fill="#00ff00"/>
<rect x="374.59" y="220.72" width="0.993" height="7.61" fill="#800080"/>
<rect x="376.68" y="280.62" width="4.393" height="17.98" fill="#000"/>
<rect x="378.38" y="281.72" width="0.993" height="16.33" fill="#800080"/>
<rect x="380.48" y="280.62" width="4.393" height="17.98" fill="#000"/>
<rect x="382.18" y="290.44" width="0.993" height="7.61" fill="#ff00ff"/>
<rect x="382.18" y="281.72" width="0.993" height="7.61" fill="#0000ff"/>
<rect x="384.27" y="271.91" width="4.393" height="26.69" fill="#000"/>
<rect x="385.97" y="290.44" width="0.993" height="7.61" fill="#ff0000"/>
<rect x="385.97" y="281.72" width="0.993" height="7.61" fill="#00ff00"/>
<rect x="385.97" y="273.01" width="0.993" height="7.61" fill="#800080"/>
<rect x="391.86" y="280.62" width="4.393" height="17.98" fill="#000"/>
<rect x="393.56" y="281.72" width="0.993" height="16.33" fill="#800080"/>
<rect x="395.65" y="245.77" width="4.393" height="52.83" fill="#000"/>
<rect x="397.35" y="290.44" width="0.993" height="7.61" fill="#ff0000"/>
<rect x="397.35" y="281.72" width="0.993" height="7.61" fill="#ffff00"/>
<rect x="397.35" y="273.01" width="0.993" height="7.61" fill="#ff8000"/>
<rect x="397.35" y="264.29" width="0.993" height="7.61" fill="#0000ff"/>
<rect x="397.35" y="246.87" width="0.993" height="16.33" fill="#800080"/>
<rect x="399.44" y="254.48" width="4.393" height="44.12" fill="#000"/>
<rect x="401.14" y="290.44" width="0.993" height="7.61" fill="#ff0000"/>
<rect x="401.14" y="281.72" width="0.993" height="7.61" fill="#ffff00"/>
<rect x="401.14" y="273.01" width="0.993" height="7.61" fill="#ff8000"/>
<rect x="401.14" y="255.58" width="0.993" height="16.33" fill="#800080"/>
<rect x="403.24" y="271.91" width="4.393" height="26.69" fill="#000"/>
<rect x="404.94" y="290.44" width="0.993" height="7.61" fill="#ff0000"/>
<rect x="404.94" y="273.01" width="0.993" height="16.33" fill="#00ff00"/>
<rect x="407.03" y="245.77" width="4.393" height="52.83" fill="#000"/>
<rect x="408.73" y="290.44" width="0.993" height="7.61" fill="#ff0000"/>
<rect x="408.73" y="281.72" width="0.993" height="7.61" fill="#ffff00"/>
<rect x="408.73" y="264.29" width="0.993" height="16.33" fill="#ff8000"/>
<rect x="408.73" y="255.58" width="0.993" height="7.61" fill="#0000ff"/>
<rect x="408.73" y="246.87" width="0.993" height="7.61" fill="#800080"/>
<rect x="410.82" y="263.19" width="4.393" height="35.41" fill="#000"/>
<rect x="412.52" y="290.44" width="0.993" height="7.61" fill="#00ff00"/>
<rect x="412.52" y="264.29" width="0.993" height="25.04" fill="#800080"/>
<rect x="414.61" y="289.34" width="4.393" height="9.26" fill="#000"/>
<rect x="416.31" y="290.44" width="0.993" height="7.61" fill="#ff0000"/>
<rect x="418.41" y="280.62" width="4.393" height="17.98" fill="#000"/>
<rect x="420.11" y="290.44" width="0.993" height="7.61" fill="#ff0000"/>
<rect x="420.11" y="281.72" width="0.993" height="7.61" fill="#800080"/>
<rect x="422.20" y="289.34" width="4.393" height="9.26" fill="#000"/>
<rect x="423.90" y="290.44" width="0.993" height="7.61" fill="#800080"/>
<rect x="425.99" y="280.62" width="4.393" height="17.98" fill="#000"/>
<rect x="427.69" y="290.44" width="0.993" height="7.61" fill="#00ff00"/>
<rect x="427.69" y="281.72" width="0.993" height="7.61" fill="#800080"/>
<rect x="433.58" y="280.62" width="4.393" height="17.98" fill="#000"/>
<rect x="435.28" y="290.44" width="0.993" height="7.61" fill="#ff00ff"/>
<rect x="435.28" y="281.72" width="0.993" height="7.61" fill="#0000ff"/>
<rect x="437.37" y="289.34" width="4.393" height="9.26" fill="#000"/>
<rect x="439.07" y="290.44" width="0.993" height="7.61" fill="#ff0000"/>
<rect x="441.17" y="280.62" width="4.393" height="17.98" fill="#000"/>
<rect x="442.87" y="290.44" width="0.993" height="7.61" fill="#ff0000"/>
<rect x="442.87" y="281.72" width="0.993" height="7.61" fill="#800080"/>
<rect x="444.96" y="289.34" width="4.393" height="9.26" fill="#000"/>
<rect x="446.66" y="290.44" width="0.993" height="7.61" fill="#ff0000"/>
<rect x="448.75" y="289.34" width="4.393" height="9.26" fill="#000"/>
<rect x="450.45" y="290.44" width="0.993" height="7.61" fill="#ff0000"/>
<rect x="452.54" y="280.62" width="4.393" height="17.98" fill="#000"/>
<rect x="454.24" y="281.72" width="0.993" height="16.33" fill="#ff0000"/>
<rect x="460.13" y="263.19" width="4.393" height="35.41" fill="#000"/>
<rect x="461.83" y="273.01" width="0.993" height="25.04" fill="#ff00ff"/>
<rect x="461.83" y="264.29" width="0.993" height="7.61" fill="#800080"/>
<rect x="463.92" y="280.62" width="4.393" height="17.98" fill="#000"/>
<rect x="465.62" y="290.44" width="0.993" height="7.61" fill="#ff0000"/>
<rect x="465.62" y="281.72" width="0.993" height="7.61" fill="#800080"/>
<rect x="467.72" y="280.62" width="4.393" height="17.98" fill="#000"/>
<rect x="469.42" y="290.44" width="0.993" height="7.61" fill="#ff0000"/>
<rect x="469.42" y="281.72" width="0.993" height="7.61" fill="#800080"/>
<rect x="471.51" y="280.62" width="4.393" height="17.98" fill="#000"/>
<rect x="473.21" y="290.44" width="0.993" height="7.61" fill="#00ff00"/>
<rect x="473.21" y="281.72" width="0.993" height="7.61" fill="#800080"/>
<rect x="475.30" y="280.62" width="4.393" height="17.98" fill="#000"/>
<rect x="477.00" y="290.44" width="0.993" height="7.61" fill="#ffff00"/>
<rect x="477.00" y="281.72" width="0.993" height="7.61" fill="#800080"/>
<rect x="479.09" y="289.34" width="4.393" height="9.26" fill="#000"/>
<rect x="480.79" y="290.44" width="0.993" height="7.61" fill="#ff0000"/>
<rect x="482.89" y="280.62" width="4.393" height="17.98" fill="#000"/>
<rect x="484.59" y="290.44" width="0.993" height="7.61" fill="#ff0000"/>
<rect x="484.59" y="281.72" width="0.993" height="7.61" fill="#800080"/>
<rect x="486.68" y="263.19" width="4.393" height="35.41" fill="#000"/>
<rect x="488.38" y="290.44" width="0.993" height="7.61" fill="#ffff00"/>
<rect x="488.38" y="264.29" width="0.993" height="25.04" fill="#800080"/>
<rect x="490.47" y="280.62" width="4.393" height="17.98" fill="#000"/>
<rect x="492.17" y="290.44" width="0.993" height="7.61" fill="#ff0000"/>
<rect x="492.17" y="281.72" width="0.993" height="7.61" fill="#800080"/>
<rect x="494.27" y="271.91" width="4.393" height="26.69" fill="#000"/>
<rect x="495.97" y="281.72" width="0.993" height="16.33" fill="#ff0000"/>
<rect x="495.97" y="273.01" width="0.993" height="7.61" fill="#00ff00"/>
<rect x="498.06" y="280.62" width="4.393" height="17.98" fill="#000"/>
<rect x="499.76" y="290.44" width="0.993" height="7.61" fill="#ff0000"/>
<rect x="499.76" y="281.72" width="0.993" height="7.61" fill="#800080"/>
<rect x="501.85" y="280.62" width="4.393" height="17.98" fill="#000"/>
<rect x="503.55" y="290.44" width="0.993" height="7.61" fill="#ff0000"/>
<rect x="503.55" y="281.72" width="0.993" height="7.61" fill="#ff8000"/>
<rect x="505.65" y="289.34" width="4.393" height="9.26" fill="#000"/>
<rect x="507.35" y="290.44" width="0.993" height="7.61" fill="#00ff00"/>
<rect x="509.44" y="289.34" width="4.393" height="9.26" fill="#000"/>
<rect x="511.14" y="290.44" width="0.993" height="7.61" fill="#ff00ff"/>
<rect x="513.23" y="289.34" width="4.393" height="9.26" fill="#000"/>
<rect x="514.93" y="290.44" width="0.993" height="7.61" fill="#00ff00"/>
<rect x="517.03" y="289.34" width="4.393" height="9.26" fill="#000"/>
<rect x="518.73" y="290.44" width="0.993" height="7.61" fill="#ff00ff"/>
<rect x="520.82" y="280.62" width="4.393" height="17.98" fill="#000"/>
<rect x="522.52" y="281.72" width="0.993" height="16.33" fill="#ff0000"/>
<rect x="528.40" y="289.34" width="4.393" height="9.26" fill="#000"/>
<rect x="530.10" y="290.44" width="0.993" height="7.61" fill="#800080"/>
<rect x="535.99" y="263.19" width="4.393" height="35.41" fill="#000"/>
<rect x="537.69" y="290.44" width="0.993" height="7.61" fill="#ff8000"/>
<rect x="537.69" y="273.01" width="0.993" height="16.33" fill="#00ff00"/>
<rect x="537.69" y="264.29" width="0.993" height="7.61" fill="#800080"/>
<g stroke="#000" stroke-width="1.8" fill="none">
<line x1="38.7" x2="38.7" y1="31" y2="300" stroke-width="1.9"/>
<line x1="37.8" x2="554.8" y1="55" y2="55"/>
<line x1="37.8" x2="554.8" y1="299" y2="299" stroke-width="2"/>
<line x1="43" x2="43" y1="55" y2="299"/>
<line x1="91.5" x2="91.5" y1="29" y2="299" stroke-width="2.1"/>
<line x1="312" x2="312" y1="29" y2="299" stroke-width="2.1"/>
<line x1="375.4" x2="375.4" y1="31" y2="299" stroke-width="2.1"/>
</g>
<g stroke="#000" stroke-width="1.4">
<line x1="38.7" x2="43" y1="289.89" y2="289.89"/>
<line x1="38.7" x2="43" y1="281.17" y2="281.17"/>
<line x1="38.7" x2="43" y1="272.46" y2="272.46"/>
<line x1="38.7" x2="43" y1="263.74" y2="263.74"/>
<line x1="38.7" x2="43" y1="255.03" y2="255.03"/>
<line x1="38.7" x2="43" y1="246.32" y2="246.32"/>
<line x1="38.7" x2="43" y1="237.60" y2="237.60"/>
<line x1="38.7" x2="43" y1="228.89" y2="228.89"/>
<line x1="38.7" x2="43" y1="220.17" y2="220.17"/>
<line x1="38.7" x2="43" y1="211.46" y2="211.46"/>
<line x1="38.7" x2="43" y1="202.75" y2="202.75"/>
<line x1="38.7" x2="43" y1="194.03" y2="194.03"/>
<line x1="38.7" x2="43" y1="185.32" y2="185.32"/>
<line x1="38.7" x2="43" y1="176.60" y2="176.60"/>
<line x1="38.7" x2="43" y1="167.89" y2="167.89"/>
<line x1="38.7" x2="43" y1="159.18" y2="159.18"/>
<line x1="38.7" x2="43" y1="150.46" y2="150.46"/>
<line x1="38.7" x2="43" y1="141.75" y2="141.75"/>
<line x1="38.7" x2="43" y1="133.03" y2="133.03"/>
<line x1="38.7" x2="43" y1="124.32" y2="124.32"/>
<line x1="38.7" x2="43" y1="115.61" y2="115.61"/>
<line x1="38.7" x2="43" y1="106.89" y2="106.89"/>
<line x1="38.7" x2="43" y1="98.18" y2="98.18"/>
<line x1="38.7" x2="43" y1="89.46" y2="89.46"/>
<line x1="38.7" x2="43" y1="80.75" y2="80.75"/>
<line x1="38.7" x2="43" y1="72.04" y2="72.04"/>
<line x1="38.7" x2="43" y1="63.32" y2="63.32"/>
</g>
<g stroke="#000" stroke-width="1.7">
<line x1="44.60" x2="44.60" y1="299" y2="320.3" stroke-width="2"/>
<line x1="48.39" x2="48.39" y1="299" y2="303.6"/>
<line x1="52.17" x2="52.17" y1="299" y2="303.6"/>
<line x1="55.96" x2="55.96" y1="299" y2="303.6"/>
<line x1="59.75" x2="59.75" y1="299" y2="303.6"/>
<line x1="63.53" x2="63.53" y1="299" y2="303.6"/>
<line x1="67.32" x2="67.32" y1="299" y2="303.6"/>
<line x1="71.11" x2="71.11" y1="299" y2="303.6"/>
<line x1="74.90" x2="74.90" y1="299" y2="303.6"/>
<line x1="78.68" x2="78.68" y1="299" y2="303.6"/>
<line x1="82.47" x2="82.47" y1="299" y2="303.6"/>
<line x1="86.26" x2="86.26" y1="299" y2="320.3" stroke-width="2"/>
<line x1="90.04" x2="90.04" y1="299" y2="303.6"/>
<line x1="93.83" x2="93.83" y1="299" y2="303.6"/>
<line x1="97.62" x2="97.62" y1="299" y2="303.6"/>
<line x1="101.41" x2="101.41" y1="299" y2="303.6"/>
<line x1="105.19" x2="105.19" y1="299" y2="303.6"/>
<line x1="108.98" x2="108.98" y1="299" y2="303.6"/>
<line x1="112.77" x2="112.77" y1="299" y2="303.6"/>
<line x1="116.55" x2="116.55" y1="299" y2="303.6"/>
<line x1="120.34" x2="120.34" y1="299" y2="303.6"/>
<line x1="124.13" x2="124.13" y1="299" y2="303.6"/>
<line x1="127.91" x2="127.91" y1="299" y2="303.6"/>
<line x1="131.70" x2="131.70" y1="299" y2="320.3" stroke-width="2"/>
<line x1="135.49" x2="135.49" y1="299" y2="303.6"/>
<line x1="139.28" x2="139.28" y1="299" y2="303.6"/>
<line x1="143.06" x2="143.06" y1="299" y2="303.6"/>
<line x1="146.85" x2="146.85" y1="299" y2="303.6"/>
<line x1="150.64" x2="150.64" y1="299" y2="303.6"/>
<line x1="154.42" x2="154.42" y1="299" y2="303.6"/>
<line x1="158.21" x2="158.21" y1="299" y2="303.6"/>
<line x1="162.00" x2="162.00" y1="299" y2="303.6"/>
<line x1="165.78" x2="165.78" y1="299" y2="303.6"/>
<line x1="169.57" x2="169.57" y1="299" y2="303.6"/>
<line x1="173.36" x2="173.36" y1="299" y2="303.6"/>
<line x1="177.14" x2="177.14" y1="299" y2="320.3" stroke-width="2"/>
<line x1="180.93" x2="180.93" y1="299" y2="303.6"/>
<line x1="184.72" x2="184.72" y1="299" y2="303.6"/>
<line x1="188.51" x2="188.51" y1="299" y2="303.6"/>
<line x1="192.29" x2="192.29" y1="299" y2="303.6"/>
<line x1="196.08" x2="196.08" y1="299" y2="303.6"/>
<line x1="199.87" x2="199.87" y1="299" y2="303.6"/>
<line x1="203.65" x2="203.65" y1="299" y2="303.6"/>
<line x1="207.44" x2="207.44" y1="299" y2="303.6"/>
<line x1="211.23" x2="211.23" y1="299" y2="303.6"/>
<line x1="215.01" x2="215.01" y1="299" y2="303.6"/>
<line x1="218.80" x2="218.80" y1="299" y2="303.6"/>
<line x1="222.59" x2="222.59" y1="299" y2="320.3" stroke-width="2"/>
<line x1="226.38" x2="226.38" y1="299" y2="303.6"/>
<line x1="230.16" x2="230.16" y1="299" y2="303.6"/>
<line x1="233.95" x2="233.95" y1="299" y2="303.6"/>
<line x1="237.74" x2="237.74" y1="299" y2="303.6"/>
<line x1="241.52" x2="241.52" y1="299" y2="303.6"/>
<line x1="245.31" x2="245.31" y1="299" y2="303.6"/>
<line x1="249.10" x2="249.10" y1="299" y2="303.6"/>
<line x1="252.88" x2="252.88" y1="299" y2="303.6"/>
<line x1="256.67" x2="256.67" y1="299" y2="303.6"/>
<line x1="260.46" x2="260.46" y1="299" y2="303.6"/>
<line x1="264.25" x2="264.25" y1="299" y2="303.6"/>
<line x1="268.03" x2="268.03" y1="299" y2="320.3" stroke-width="2"/>
<line x1="271.82" x2="271.82" y1="299" y2="303.6"/>
<line x1="275.61" x2="275.61" y1="299" y2="303.6"/>
<line x1="279.39" x2="279.39" y1="299" y2="303.6"/>
<line x1="283.18" x2="283.18" y1="299" y2="303.6"/>
<line x1="286.97" x2="286.97" y1="299" y2="303.6"/>
<line x1="290.75" x2="290.75" y1="299" y2="303.6"/>
<line x1="294.54" x2="294.54" y1="299" y2="303.6"/>
<line x1="298.33" x2="298.33" y1="299" y2="303.6"/>
<line x1="302.12" x2="302.12" y1="299" y2="303.6"/>
<line x1="305.90" x2="305.90" y1="299" y2="303.6"/>
<line x1="309.69" x2="309.69" y1="299" y2="303.6"/>
<line x1="313.48" x2="313.48" y1="299" y2="320.3" stroke-width="2"/>
<line x1="317.26" x2="317.26" y1="299" y2="303.6"/>
<line x1="321.05" x2="321.05" y1="299" y2="303.6"/>
<line x1="324.84" x2="324.84" y1="299" y2="303.6"/>
<line x1="328.62" x2="328.62" y1="299" y2="303.6"/>
<line x1="332.41" x2="332.41" y1="299" y2="303.6"/>
<line x1="336.20" x2="336.20" y1="299" y2="303.6"/>
<line x1="339.99" x2="339.99" y1="299" y2="303.6"/>
<line x1="343.77" x2="343.77" y1="299" y2="303.6"/>
<line x1="347.56" x2="347.56" y1="299" y2="303.6"/>
<line x1="351.35" x2="351.35" y1="299" y2="303.6"/>
<line x1="355.13" x2="355.13" y1="299" y2="303.6"/>
<line x1="358.92" x2="358.92" y1="299" y2="320.3" stroke-width="2"/>
<line x1="362.71" x2="362.71" y1="299" y2="303.6"/>
<line x1="366.50" x2="366.50" y1="299" y2="303.6"/>
<line x1="370.28" x2="370.28" y1="299" y2="303.6"/>
<line x1="374.07" x2="374.07" y1="299" y2="303.6"/>
<line x1="377.86" x2="377.86" y1="299" y2="303.6"/>
<line x1="381.64" x2="381.64" y1="299" y2="303.6"/>
<line x1="385.43" x2="385.43" y1="299" y2="303.6"/>
<line x1="389.22" x2="389.22" y1="299" y2="303.6"/>
<line x1="393.00" x2="393.00" y1="299" y2="303.6"/>
<line x1="396.79" x2="396.79" y1="299" y2="303.6"/>
<line x1="400.58" x2="400.58" y1="299" y2="303.6"/>
<line x1="404.37" x2="404.37" y1="299" y2="320.3" stroke-width="2"/>
<line x1="408.15" x2="408.15" y1="299" y2="303.6"/>
<line x1="411.94" x2="411.94" y1="299" y2="303.6"/>
<line x1="415.73" x2="415.73" y1="299" y2="303.6"/>
<line x1="419.51" x2="419.51" y1="299" y2="303.6"/>
<line x1="423.30" x2="423.30" y1="299" y2="303.6"/>
<line x1="427.09" x2="427.09" y1="299" y2="303.6"/>
<line x1="430.87" x2="430.87" y1="299" y2="303.6"/>
<line x1="434.66" x2="434.66" y1="299" y2="303.6"/>
<line x1="438.45" x2="438.45" y1="299" y2="303.6"/>
<line x1="442.24" x2="442.24" y1="299" y2="303.6"/>
<line x1="446.02" x2="446.02" y1="299" y2="303.6"/>
<line x1="449.81" x2="449.81" y1="299" y2="320.3" stroke-width="2"/>
<line x1="453.60" x2="453.60" y1="299" y2="303.6"/>
<line x1="457.38" x2="457.38" y1="299" y2="303.6"/>
<line x1="461.17" x2="461.17" y1="299" y2="303.6"/>
<line x1="464.96" x2="464.96" y1="299" y2="303.6"/>
<line x1="468.74" x2="468.74" y1="299" y2="303.6"/>
<line x1="472.53" x2="472.53" y1="299" y2="303.6"/>
<line x1="476.32" x2="476.32" y1="299" y2="303.6"/>
<line x1="480.11" x2="480.11" y1="299" y2="303.6"/>
<line x1="483.89" x2="483.89" y1="299" y2="303.6"/>
<line x1="487.68" x2="487.68" y1="299" y2="303.6"/>
<line x1="491.47" x2="491.47" y1="299" y2="303.6"/>
<line x1="495.25" x2="495.25" y1="299" y2="320.3" stroke-width="2"/>
<line x1="499.04" x2="499.04" y1="299" y2="303.6"/>
<line x1="502.83" x2="502.83" y1="299" y2="303.6"/>
<line x1="506.61" x2="506.61" y1="299" y2="303.6"/>
<line x1="510.40" x2="510.40" y1="299" y2="303.6"/>
<line x1="514.19" x2="514.19" y1="299" y2="303.6"/>
<line x1="517.98" x2="517.98" y1="299" y2="303.6"/>
<line x1="521.76" x2="521.76" y1="299" y2="303.6"/>
<line x1="525.55" x2="525.55" y1="299" y2="303.6"/>
<line x1="529.34" x2="529.34" y1="299" y2="303.6"/>
<line x1="533.12" x2="533.12" y1="299" y2="303.6"/>
<line x1="536.91" x2="536.91" y1="299" y2="303.6"/>
<line x1="540.70" x2="540.70" y1="299" y2="320.3" stroke-width="2"/>
<line x1="544.48" x2="544.48" y1="299" y2="303.6"/>
<line x1="548.27" x2="548.27" y1="299" y2="303.6"/>
<line x1="552.06" x2="552.06" y1="299" y2="303.6"/>
</g>
<polygon points="85,33 98,33 91.5,51.5"/>
<polygon points="305.5,33 318.5,33 312,51.5"/>
<line x1="375.4" x2="405" y1="40.6" y2="40.6" stroke="#000" stroke-width="2.4"/>
<polygon points="402.5,34.8 402.5,46.4 421.5,40.6"/>
<line x1="93" x2="282" y1="72" y2="72" stroke="#000" stroke-width="2"/>
<line x1="76.2" x2="76.2" y1="65.3" y2="81.7" stroke="#000" stroke-width="2"/>
<polygon points="76.5,72 95,66 95,78"/>
<line x1="298.1" x2="298.1" y1="61.5" y2="82.3" stroke="#000" stroke-width="2"/>
<polygon points="297.8,72 280,65.5 280,78.5"/>
<text x="88.1" y="9.2" font-size="12.5" text-anchor="start" textLength="20" lengthAdjust="spacingAndGlyphs">ICU</text>
<text x="73.9" y="23.5" font-size="12.5" text-anchor="start" textLength="47.3" lengthAdjust="spacingAndGlyphs">closure I</text>
<text x="304.3" y="9.2" font-size="12.5" text-anchor="start" textLength="20" lengthAdjust="spacingAndGlyphs">ICU</text>
<text x="288.6" y="23.5" font-size="12.5" text-anchor="start" textLength="52" lengthAdjust="spacingAndGlyphs">closure II</text>
<text x="427" y="44.4" font-size="12.5" text-anchor="start" textLength="47.5" lengthAdjust="spacingAndGlyphs">new ICU</text>
<text x="155.3" y="67.6" font-size="12.6" text-anchor="start" textLength="77.2" lengthAdjust="spacingAndGlyphs">SDD protocol</text>
<text x="279.8" y="337.5" font-size="12.3" text-anchor="start" textLength="23.5" lengthAdjust="spacingAndGlyphs">year</text>
<text transform="translate(8.3,221.2) rotate(-90)" font-size="12" textLength="90.8" lengthAdjust="spacingAndGlyphs">number of MDRO</text>
<text x="26.599999999999998" y="301.90" font-size="10" text-anchor="start" textLength="5.3" lengthAdjust="spacingAndGlyphs">0</text>
<text x="26.599999999999998" y="267.04" font-size="10" text-anchor="start" textLength="5.3" lengthAdjust="spacingAndGlyphs">4</text>
<text x="26.599999999999998" y="232.19" font-size="10" text-anchor="start" textLength="5.3" lengthAdjust="spacingAndGlyphs">8</text>
<text x="21.299999999999997" y="197.33" font-size="10" text-anchor="start" textLength="10.6" lengthAdjust="spacingAndGlyphs">12</text>
<text x="21.299999999999997" y="162.48" font-size="10" text-anchor="start" textLength="10.6" lengthAdjust="spacingAndGlyphs">16</text>
<text x="21.299999999999997" y="127.62" font-size="10" text-anchor="start" textLength="10.6" lengthAdjust="spacingAndGlyphs">20</text>
<text x="21.299999999999997" y="92.76" font-size="10" text-anchor="start" textLength="10.6" lengthAdjust="spacingAndGlyphs">24</text>
<text x="21.299999999999997" y="57.91" font-size="10" text-anchor="start" textLength="10.6" lengthAdjust="spacingAndGlyphs">28</text>
<text x="54.93" y="317" font-size="10" text-anchor="start" textLength="21" lengthAdjust="spacingAndGlyphs">2002</text>
<text x="98.48" y="317" font-size="10" text-anchor="start" textLength="21" lengthAdjust="spacingAndGlyphs">2003</text>
<text x="143.92" y="317" font-size="10" text-anchor="start" textLength="21" lengthAdjust="spacingAndGlyphs">2004</text>
<text x="189.37" y="317" font-size="10" text-anchor="start" textLength="21" lengthAdjust="spacingAndGlyphs">2005</text>
<text x="234.81" y="317" font-size="10" text-anchor="start" textLength="21" lengthAdjust="spacingAndGlyphs">2006</text>
<text x="280.25" y="317" font-size="10" text-anchor="start" textLength="21" lengthAdjust="spacingAndGlyphs">2007</text>
<text x="325.70" y="317" font-size="10" text-anchor="start" textLength="21" lengthAdjust="spacingAndGlyphs">2008</text>
<text x="371.14" y="317" font-size="10" text-anchor="start" textLength="21" lengthAdjust="spacingAndGlyphs">2009</text>
<text x="416.59" y="317" font-size="10" text-anchor="start" textLength="21" lengthAdjust="spacingAndGlyphs">2010</text>
<text x="462.03" y="317" font-size="10" text-anchor="start" textLength="21" lengthAdjust="spacingAndGlyphs">2011</text>
<text x="507.48" y="317" font-size="10" text-anchor="start" textLength="21" lengthAdjust="spacingAndGlyphs">2012</text>
<text x="545.0" y="317" font-size="10" text-anchor="start" textLength="21" lengthAdjust="spacingAndGlyphs">2013</text>
<rect x="446.6" y="75.60" width="20" height="12" fill="#800080" stroke="#000" stroke-width="1.2"/>
<text x="476.4" y="84.80" font-size="9.8" text-anchor="start" textLength="59.3" lengthAdjust="spacingAndGlyphs">Pseudomonas</text>
<rect x="446.6" y="93.03" width="20" height="12" fill="#0000ff" stroke="#000" stroke-width="1.2"/>
<text x="476.4" y="102.23" font-size="9.8" text-anchor="start" textLength="31.6" lengthAdjust="spacingAndGlyphs">Serratia</text>
<rect x="446.6" y="110.46" width="20" height="12" fill="#00ff00" stroke="#000" stroke-width="1.2"/>
<text x="476.4" y="119.66" font-size="9.8" text-anchor="start" textLength="32.4" lengthAdjust="spacingAndGlyphs">Proteus</text>
<rect x="446.6" y="127.89" width="20" height="12" fill="#ff8000" stroke="#000" stroke-width="1.2"/>
<text x="476.4" y="137.09" font-size="9.8" text-anchor="start" textLength="45.6" lengthAdjust="spacingAndGlyphs">Morganella</text>
<rect x="446.6" y="145.32" width="20" height="12" fill="#ff00ff" stroke="#000" stroke-width="1.2"/>
<text x="476.4" y="154.52" font-size="9.8" text-anchor="start" textLength="52.8" lengthAdjust="spacingAndGlyphs">Enterobacter</text>
<rect x="446.6" y="162.75" width="20" height="12" fill="#ffff00" stroke="#000" stroke-width="1.2"/>
<text x="476.4" y="171.95" font-size="9.8" text-anchor="start" textLength="45.4" lengthAdjust="spacingAndGlyphs">Citrobacter</text>
<rect x="446.6" y="180.18" width="20" height="12" fill="#ff0000" stroke="#000" stroke-width="1.2"/>
<text x="476.4" y="189.38" font-size="9.8" text-anchor="start" textLength="39.4" lengthAdjust="spacingAndGlyphs">Klebsiella</text>
<rect x="446.6" y="197.61" width="20" height="12" fill="#00ffff" stroke="#000" stroke-width="1.2"/>
<text x="476.4" y="206.81" font-size="9.8" text-anchor="start" textLength="56.9" lengthAdjust="spacingAndGlyphs">Acinetobacter</text>
</svg>
</body></html>
